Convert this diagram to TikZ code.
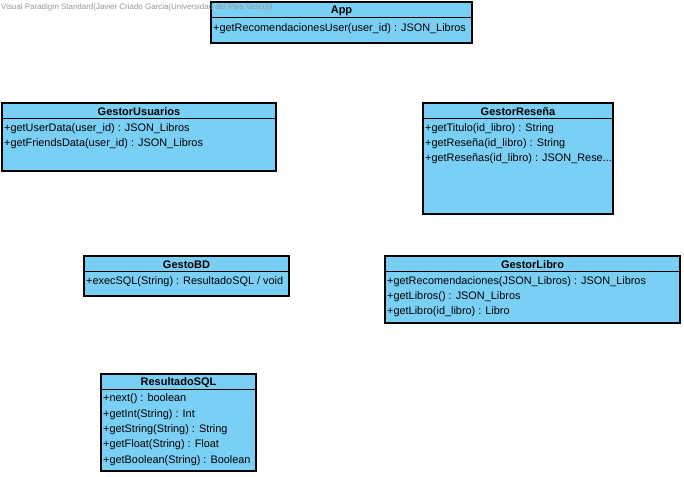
\documentclass[tikz,border=0pt]{standalone}
\usepackage{fontspec}
\setmainfont{Liberation Sans}
\definecolor{vpblue}{RGB}{122,207,245}
\definecolor{wmgray}{RGB}{150,150,150}
\tikzset{
  cls/.style={draw=black, fill=vpblue, line width=1.2pt, anchor=north west, inner sep=0pt, outer sep=0pt},
  ctitle/.style={font=\fontsize{11}{13}\selectfont\bfseries, inner sep=0pt, anchor=center},
  meth/.style={font=\fontsize{10.9}{13}\selectfont, inner sep=0pt, anchor=west},
  hline/.style={draw=black, line width=1pt},
  wm/.style={font=\fontsize{7.95}{9}\selectfont, text=wmgray, inner sep=0pt, anchor=west}
}
\begin{document}
\begin{tikzpicture}[x=1pt,y=-1pt]
\useasboundingbox (0,0) rectangle (684,476);
\fill[white] (0,0) rectangle (684,476);

% App
\node[cls, minimum width=261pt, minimum height=41pt] (app) at (211,2) {};
\draw[hline] (211,18) -- (472,18);
\node[ctitle] (appT) at (341.5,10.5) {App};
\node[meth] (appM1) at (213,29) {+getRecomendacionesUser(user\_id) : JSON\_Libros};

% watermark
\node[wm] (wm) at (1,7.5) {Visual Paradigm Standard(Javier Criado Garcia(Universidad del Pais Vasco))};

% GestorUsuarios
\node[cls, minimum width=274pt, minimum height=68pt] (gu) at (2,103) {};
\draw[hline] (2,118.5) -- (276,118.5);
\node[ctitle] (guT) at (139,111.5) {GestorUsuarios};
\node[meth] (guM1) at (4,129) {+getUserData(user\_id) : JSON\_Libros};
\node[meth] (guM2) at (4,144) {+getFriendsData(user\_id) : JSON\_Libros};

% GestorResena
\node[cls, minimum width=190pt, minimum height=111pt] (gr) at (423,103) {};
\draw[hline] (423,118.5) -- (613,118.5);
\node[ctitle] (grT) at (518,111.5) {GestorReseña};
\node[meth] (grM1) at (425,129) {+getTitulo(id\_libro) : String};
\node[meth] (grM2) at (425,144) {+getReseña(id\_libro) : String};
\node[meth] (grM3) at (425,159) {+getReseñas(id\_libro) : JSON\_Rese...};

% GestoBD
\node[cls, minimum width=205pt, minimum height=40pt] (gbd) at (84,256) {};
\draw[hline] (84,271.5) -- (289,271.5);
\node[ctitle] (gbdT) at (186.5,264.5) {GestoBD};
\node[meth] (gbdM1) at (86,282) {+execSQL(String) : ResultadoSQL / void};

% GestorLibro
\node[cls, minimum width=295pt, minimum height=67pt] (gl) at (385,256) {};
\draw[hline] (385,271.5) -- (680,271.5);
\node[ctitle] (glT) at (532.5,264.5) {GestorLibro};
\node[meth] (glM1) at (387,282) {+getRecomendaciones(JSON\_Libros) : JSON\_Libros};
\node[meth] (glM2) at (387,297) {+getLibros() : JSON\_Libros};
\node[meth] (glM3) at (387,312) {+getLibro(id\_libro) : Libro};

% ResultadoSQL
\node[cls, minimum width=155pt, minimum height=97pt] (rs) at (101,374) {};
\draw[hline] (101,389.5) -- (256,389.5);
\node[ctitle] (rsT) at (178.5,382.5) {ResultadoSQL};
\node[meth] (rsM1) at (103,399) {+next() : boolean};
\node[meth] (rsM2) at (103,414.3) {+getInt(String) : Int};
\node[meth] (rsM3) at (103,429.6) {+getString(String) : String};
\node[meth] (rsM4) at (103,444.9) {+getFloat(String) : Float};
\node[meth] (rsM5) at (103,460.2) {+getBoolean(String) : Boolean};
\end{tikzpicture}
\end{document}
